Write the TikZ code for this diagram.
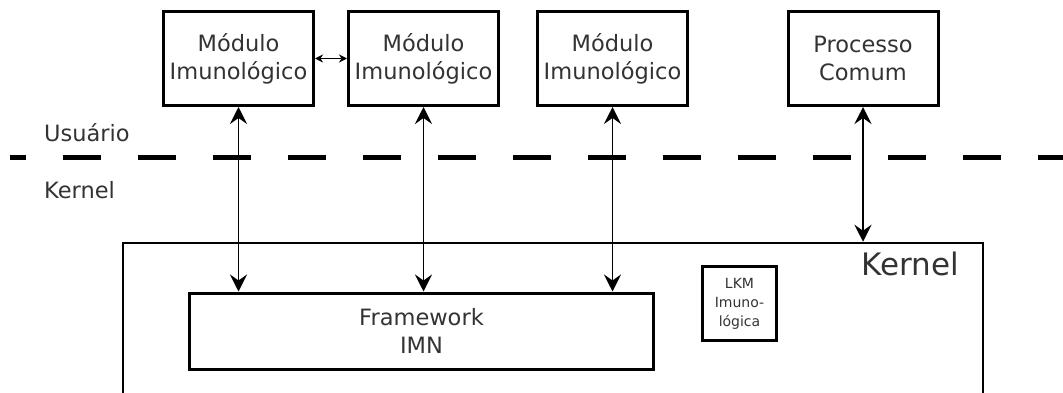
\documentclass[tikz,border=0pt]{standalone}
\usepackage{fontspec}
\setmainfont{DejaVu Sans}
\usetikzlibrary{arrows.meta}
\begin{document}
\begin{tikzpicture}[x=1pt,y=-1pt,
  txt/.style={text=black!80,font=\fontsize{22.5}{28}\selectfont,align=center},
  modbox/.style={draw,line width=3pt,minimum width=150pt,minimum height=94pt,inner sep=0pt,txt},
  link/.style={line width=1.6pt,{Stealth[length=17pt,width=17pt,inset=6pt]}-{Stealth[length=17pt,width=17pt,inset=6pt]}},
  shortlink/.style={line width=1.8pt,{Stealth[length=8pt,width=8pt,inset=2.5pt]}-{Stealth[length=8pt,width=8pt,inset=2.5pt]}},
  divider/.style={line width=5pt,dash pattern=on 38pt off 37pt,dash phase=22pt}]
\useasboundingbox (0,0) rectangle (1063,393);

% user-space processes
\node[modbox] (m1) at (238.5,58.5) {Módulo\\Imunológico};
\node[modbox] (m2) at (423.5,58.5) {Módulo\\Imunológico};
\node[modbox] (m3) at (612.5,58.5) {Módulo\\Imunológico};
\node[modbox] (pc) at (863,58.5) {Processo\\Comum};

% user / kernel boundary
\coordinate (dl) at (10,158);
\coordinate (dr) at (1063,158);
\draw[divider] (dl) -- (dr);
\node[txt,anchor=west,inner sep=0pt] (lu) at (44,133) {Usuário};
\node[txt,anchor=west,inner sep=0pt] (lk) at (44,190) {Kernel};

% kernel space
\node[draw,line width=2.5pt,minimum width=860pt,minimum height=200pt,inner sep=0pt] (kernel) at (553,343) {};
\node[text=black!80,font=\fontsize{31}{36}\selectfont,anchor=base,inner sep=0pt] (kl) at (910,275) {Kernel};
\node[modbox,minimum width=464pt,minimum height=76pt] (fw) at (421.5,331) {Framework\\IMN};
\node[draw,line width=3pt,minimum width=74pt,minimum height=74pt,inner sep=0pt,
      text=black!80,font=\fontsize{14}{19}\selectfont,align=center] (lkm) at (739.5,303.5) {LKM\\Imuno-\\lógica};

% connectors
\draw[shortlink] (m1.east) -- (m2.west);
\draw[link] (m1.south) -- (m1.south |- fw.north);
\draw[link] (m2.south) -- (m2.south |- fw.north);
\draw[link] (m3.south) -- (m3.south |- fw.north);
\draw[link] (pc.south) -- (pc.south |- kernel.north);
\end{tikzpicture}
\end{document}
